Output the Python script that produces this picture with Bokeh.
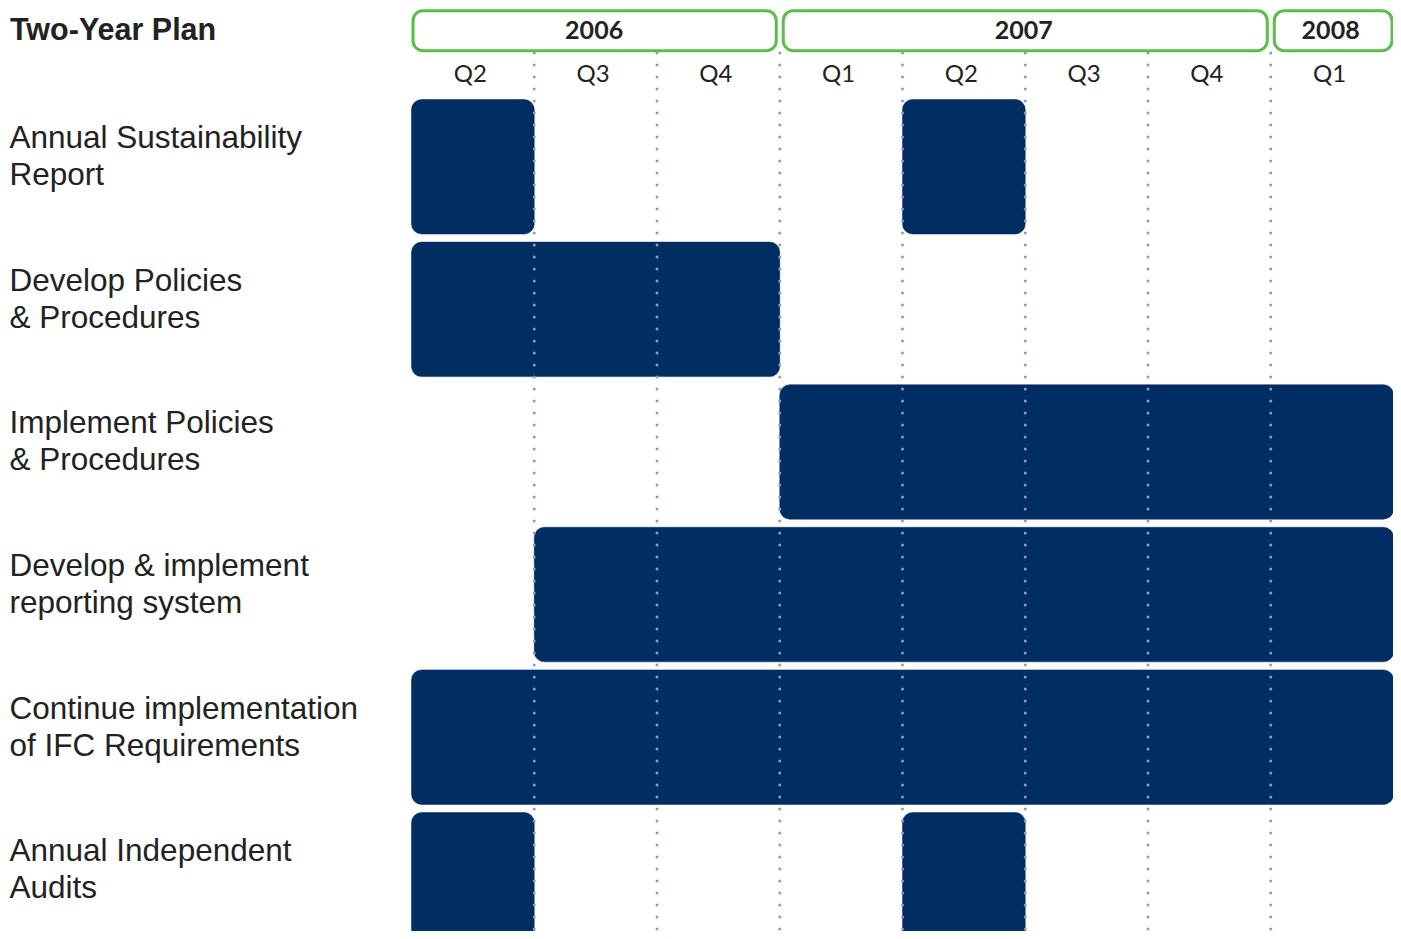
from bokeh.plotting import figure
from bokeh.models import Range1d, ColumnDataSource
from bokeh.core.properties import value
from bokeh.embed import file_html
from bokeh.resources import INLINE

# ---------------- data ----------------
title = "Two-Year Plan"
years = ["2006", "2007", "2008"]
year_quarter_counts = [3, 4, 1]
quarter_labels = ["Q2", "Q3", "Q4", "Q1", "Q2", "Q3", "Q4", "Q1"]

task_line1 = ["Annual Sustainability", "Develop Policies", "Implement Policies",
              "Develop & implement", "Continue implementation", "Annual Independent"]
task_line2 = ["Report", "& Procedures", "& Procedures",
              "reporting system", "of IFC Requirements", "Audits"]

bar_task = [0, 0, 1, 2, 3, 4, 5, 5]
bar_start = [0, 4, 0, 3, 1, 0, 0, 4]
bar_end = [1, 5, 3, 8, 8, 8, 1, 5]

# ---------------- layout constants (pixels) ----------------
W, H = 1393, 931
Q0 = 411.0          # x of first quarter start
QW = 122.75         # pixel width of a quarter
ROW0 = 166.25       # y of first row centre
PITCH = 142.6       # pixel row pitch
BAR_H = 134.5
TXT_SHIFT = 0.36    # baseline correction (fraction of font size)

def xd(px):
    return (px - Q0) / QW

def yd(py):
    return (py - ROW0) / PITCH

def ybase(py, size):
    return yd(py - TXT_SHIFT * size)

NAVY = "#002D62"
GREEN = "#5BBD4A"
GRID = "#8F9AC8"
TXT = "#222222"

p = figure(width=W, height=H, output_backend="svg", toolbar_location=None,
           x_range=Range1d(xd(0), xd(W)),
           y_range=Range1d(yd(H), yd(0)),
           min_border=0)
p.axis.visible = False
p.xgrid.visible = False
p.ygrid.visible = False
p.outline_line_color = None
p.background_fill_color = "white"
p.border_fill_color = "white"

# ---------------- bars ----------------
half = BAR_H / 2 / PITCH
bars = ColumnDataSource(dict(
    left=bar_start, right=bar_end,
    top=[t - half for t in bar_task],
    bottom=[t + half for t in bar_task],
))
p.quad(left="left", right="right", top="top", bottom="bottom", source=bars,
       fill_color=NAVY, line_color=NAVY, line_width=0.5, border_radius=10)

# ---------------- dotted quarter gridlines ----------------
n_q = len(quarter_labels)
gx = list(range(1, n_q))
p.segment(x0=gx, x1=gx, y0=[yd(52.5)] * len(gx), y1=[yd(930)] * len(gx),
          line_color=GRID, line_width=3, line_dash="0 12", line_cap="round")

# ---------------- year boxes ----------------
starts = []
acc = 0
for c in year_quarter_counts:
    starts.append(acc)
    acc += c
ends = [s + c for s, c in zip(starts, year_quarter_counts)]
inner, outer = 3.5 / QW, 1.5 / QW
box_l = [s + (outer if s == 0 else inner) for s in starts]
box_r = [e - (outer if e == n_q else inner) for e in ends]
p.quad(left=box_l, right=box_r, top=[yd(10.2)] * 3, bottom=[yd(50.2)] * 3,
       fill_color="white", line_color=GREEN, line_width=3, border_radius=10)
p.text(x=[(s + e) / 2 - 1.5 / QW for s, e in zip(starts, ends)],
       y=[ybase(38, 25)] * 3, text=years,
       text_font=value("Lato"), text_font_size="25px", text_font_style="bold",
       text_color=TXT, text_align="center", text_baseline="alphabetic")

# ---------------- quarter labels ----------------
p.text(x=[i + 0.5 - 2.5 / QW for i in range(n_q)], y=[ybase(81, 24)] * n_q,
       text=quarter_labels,
       text_font=value("Lato"), text_font_size="24px",
       text_color=TXT, text_align="center", text_baseline="alphabetic")

# ---------------- title ----------------
p.text(x=[xd(9.5)], y=[ybase(39, 30.5)], text=[title],
       text_font=value("Liberation Sans"), text_font_size="30.5px",
       text_font_style="bold", text_color=TXT, text_baseline="alphabetic")

# ---------------- task labels ----------------
rows = list(range(len(task_line1)))
FS = 31.5
p.text(x=[xd(9)] * len(rows),
       y=[ybase(ROW0 + r * PITCH - 18.25, FS) for r in rows], text=task_line1,
       text_font=value("Liberation Sans"), text_font_size=f"{FS}px",
       text_color=TXT, text_baseline="alphabetic")
p.text(x=[xd(9)] * len(rows),
       y=[ybase(ROW0 + r * PITCH + 18.75, FS) for r in rows], text=task_line2,
       text_font=value("Liberation Sans"), text_font_size=f"{FS}px",
       text_color=TXT, text_baseline="alphabetic")

open("out.html", "w").write(file_html(p, INLINE))
